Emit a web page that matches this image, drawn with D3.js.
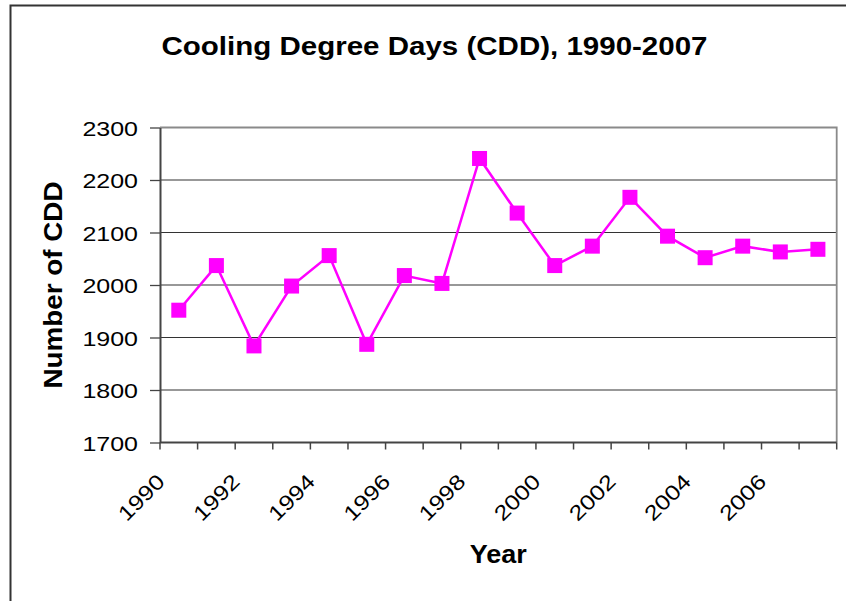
<!DOCTYPE html>
<html><head><meta charset="utf-8">
<script src="https://cdn.jsdelivr.net/npm/d3@7"></script>
<style>
html,body{margin:0;padding:0;background:#fff;}
svg{display:block;font-family:"Liberation Sans",Arial,sans-serif;}
</style></head>
<body>
<svg id="chart" width="846" height="601"></svg>
<script>
const years = [1990,1991,1992,1993,1994,1995,1996,1997,1998,1999,2000,2001,2002,2003,2004,2005,2006,2007];
const cdd = [1952,2037,1884,1998,2056,1887,2018,2003,2241,2137,2037,2074,2167,2093,2052,2074,2063,2068];
const yTicks = [1700,1800,1900,2000,2100,2200,2300];
const xLabelYears = [1990,1992,1994,1996,1998,2000,2002,2004,2006];
const titleText = "Cooling Degree Days (CDD), 1990-2007";
const xTitle = "Year";
const yTitle = "Number of CDD";

const svg = d3.select("#chart");
const L = 160, R = 836.7, T = 127.5, B = 442.5;

const x = d3.scaleBand().domain(years).range([L, R]).padding(0);
const y = d3.scaleLinear().domain([1700, 2300]).range([B, T]);

// outer frame
svg.append("path").attr("d", `M10.5,601 L10.5,5.5 L846,5.5`)
  .attr("fill","none").attr("stroke","#333").attr("stroke-width",2);

// title
svg.append("text").attr("x", 434.5).attr("y", 54.5).attr("text-anchor","middle")
  .attr("font-size",26).attr("font-weight","bold").attr("fill","#000")
  .attr("textLength",546).attr("lengthAdjust","spacingAndGlyphs").text(titleText);

// gridlines
svg.append("g").selectAll("line").data(yTicks.filter(d => d > 1700 && d < 2300)).join("line")
  .attr("x1", L).attr("x2", R).attr("y1", d => y(d)).attr("y2", d => y(d))
  .attr("stroke","#333").attr("stroke-width",1.2);

// plot border top/right
svg.append("path").attr("d", `M${L},${y(2300)} L${R},${y(2300)} L${R},${B}`)
  .attr("fill","none").attr("stroke","#8a8a8a").attr("stroke-width",1.8);

// y axis
const yAxis = d3.axisLeft(y).tickValues(yTicks).tickFormat(d3.format("d"))
  .tickSize(10).tickSizeOuter(0).tickPadding(12);
const gy = svg.append("g").attr("transform",`translate(${L},0)`).call(yAxis);
gy.select(".domain").attr("stroke","#444").attr("stroke-width",2);
gy.selectAll(".tick line").attr("stroke","#444").attr("stroke-width",1.3);
gy.selectAll(".tick text").attr("font-size",21).attr("fill","#000")
  .attr("font-family","Liberation Sans, Arial, sans-serif")
  .attr("textLength",55.6).attr("lengthAdjust","spacingAndGlyphs").attr("dy","0.36em");

// x axis: ticks at category boundaries
const boundaries = years.map(d => x(d)).concat([R]);
svg.append("line").attr("x1",L).attr("x2",R).attr("y1",B).attr("y2",B)
  .attr("stroke","#444").attr("stroke-width",2);
svg.append("g").selectAll("line").data(boundaries).join("line")
  .attr("x1", d => d).attr("x2", d => d).attr("y1", B).attr("y2", B + 7)
  .attr("stroke","#444").attr("stroke-width",1.5);

svg.append("g").selectAll("text").data(xLabelYears).join("text")
  .attr("transform", d => `translate(${x(d) + 6},${483}) rotate(-45)`)
  .attr("text-anchor","end").attr("font-size",21).attr("fill","#000")
  .attr("textLength",55.6).attr("lengthAdjust","spacingAndGlyphs")
  .text(d => d);

// axis titles
svg.append("text").attr("x", (L + R) / 2).attr("y", 563).attr("text-anchor","middle")
  .attr("font-size",25).attr("font-weight","bold").attr("fill","#000")
  .attr("textLength",57).attr("lengthAdjust","spacingAndGlyphs").text(xTitle);
svg.append("text").attr("transform", `translate(62,${(T + B) / 2}) rotate(-90)`)
  .attr("text-anchor","middle").attr("font-size",25).attr("font-weight","bold").attr("fill","#000")
  .attr("textLength",207).attr("lengthAdjust","spacingAndGlyphs").text(yTitle);

// series
const cx = d => x(d) + x.bandwidth() / 2;
const line = d3.line().x((d, i) => cx(years[i])).y(d => y(d));
svg.append("path").datum(cdd).attr("d", line)
  .attr("fill","none").attr("stroke","#ff00ff").attr("stroke-width",2.5);
const ms = 15;
svg.append("g").selectAll("rect").data(cdd).join("rect")
  .attr("x", (d, i) => cx(years[i]) - ms / 2).attr("y", d => y(d) - ms / 2)
  .attr("width", ms).attr("height", ms).attr("fill","#ff00ff");
</script>
</body></html>
